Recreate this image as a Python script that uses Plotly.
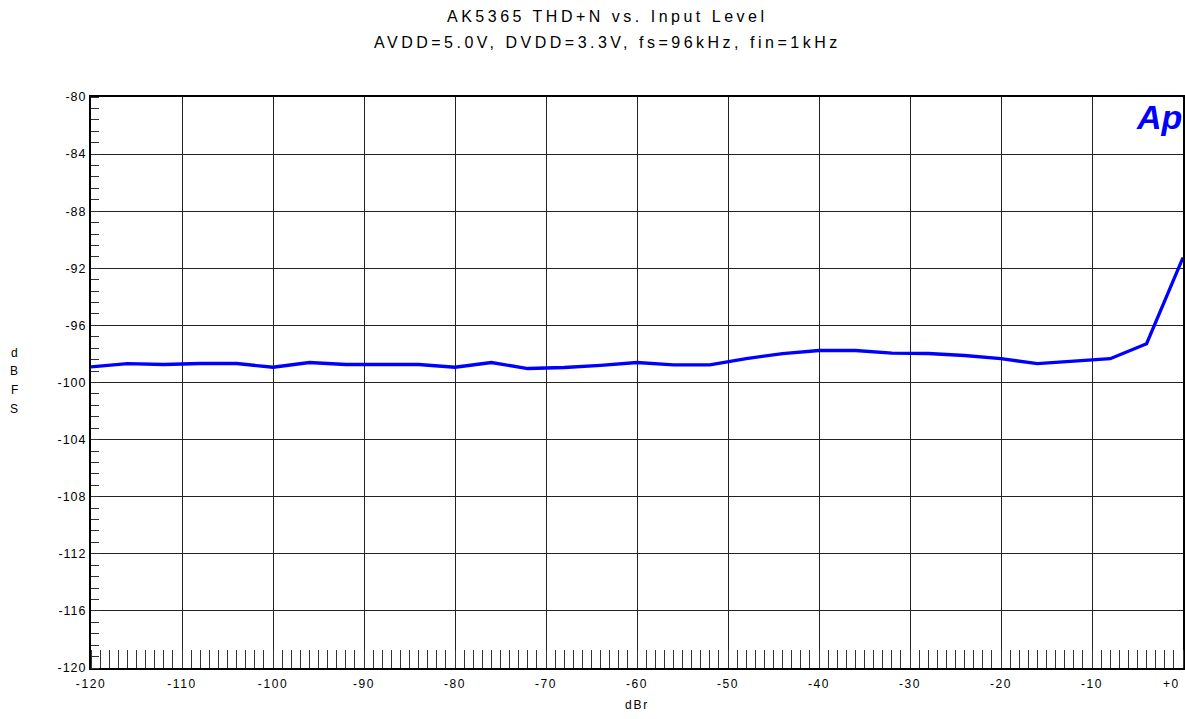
import plotly.graph_objects as go

level_dbr = [-120, -116, -112, -108, -104, -100, -96, -92, -88, -84, -80, -76, -72, -68,
             -64, -60, -56, -52, -48, -44, -40, -36, -32, -28, -24, -20, -16, -12, -8, -4, 0]
thdn_dbfs = [-98.9, -98.68, -98.74, -98.67, -98.67, -98.93, -98.6, -98.74, -98.74, -98.74,
             -98.93, -98.6, -99.02, -98.95, -98.8, -98.6, -98.76, -98.76, -98.32, -97.98,
             -97.76, -97.76, -97.94, -97.97, -98.11, -98.33, -98.68, -98.5, -98.33, -97.28, -91.25]

x_ticks = [-120, -110, -100, -90, -80, -70, -60, -50, -40, -30, -20, -10, 0]
x_ticktext = ["-120", "-110", "-100", "-90", "-80", "-70", "-60", "-50", "-40", "-30", "-20", "-10", "+0"]
y_ticks = [-80, -84, -88, -92, -96, -100, -104, -108, -112, -116, -120]

title_l1 = "AK5365 THD+N vs. Input Level"
title_l2 = "AVDD=5.0V, DVDD=3.3V, fs=96kHz, fin=1kHz"
x_title = "dBr"
y_title = "dBFS"
logo = "Ap"

FONT = "Liberation Sans, Arial, sans-serif"

def sp(t, px):
    return f'<span style="letter-spacing:{px}px">{t}</span>'

fig = go.Figure()
fig.add_trace(go.Scatter(x=level_dbr, y=thdn_dbfs, mode="lines",
                         line=dict(color="#0000FF", width=3.3), hoverinfo="skip"))

# the last tick label sits right-aligned against the figure edge (drawn as annotation)
axis_labels = [sp(t, 1.6) for t in x_ticktext[:-1]] + [""]

fig.update_layout(
    width=1185, height=719,
    margin=dict(l=91, r=0, t=97, b=51),
    paper_bgcolor="white", plot_bgcolor="white",
    showlegend=False,
    font=dict(family=FONT, color="black", size=12),
    xaxis=dict(
        range=[-120, 0], tickvals=x_ticks, ticktext=axis_labels,
        showgrid=True, gridcolor="#222", gridwidth=1,
        zeroline=False, showline=True, linecolor="black", linewidth=1.5, mirror=True,
        ticks="", tickfont=dict(size=12, family=FONT), ticklabelstandoff=4,
        minor=dict(dtick=1, tick0=0, ticks="inside", ticklen=18, tickcolor="#333",
                   tickwidth=1, showgrid=False),
        fixedrange=True,
    ),
    yaxis=dict(
        range=[-120, -80], tickvals=y_ticks, ticktext=[sp(str(v), 1.0) for v in y_ticks],
        showgrid=True, gridcolor="#222", gridwidth=1,
        zeroline=False, showline=True, linecolor="black", linewidth=2, mirror=True,
        ticks="", tickfont=dict(size=12.5, family=FONT),
        minor=dict(dtick=0.8, tick0=-80, ticks="inside", ticklen=8, tickcolor="#333",
                   tickwidth=1, showgrid=False),
        fixedrange=True,
    ),
)

fig.add_annotation(xref="x", yref="paper", x=x_ticks[-1], y=0, yshift=-16, xshift=-1,
                   showarrow=False, text=sp(x_ticktext[-1], 1.6),
                   font=dict(size=12, family=FONT), xanchor="right", yanchor="middle")

title_x = (608 - 91) / 1094
fig.add_annotation(xref="paper", yref="paper", x=title_x, y=1, yshift=81, showarrow=False,
                   text=sp(title_l1, 3.5), font=dict(size=16, family=FONT, color="black"),
                   xanchor="center", yanchor="middle")
fig.add_annotation(xref="paper", yref="paper", x=title_x, y=1, yshift=55, showarrow=False,
                   text=sp(title_l2, 3.5), font=dict(size=16, family=FONT, color="black"),
                   xanchor="center", yanchor="middle")
fig.add_annotation(xref="paper", yref="paper", x=0.5, y=0, yshift=-37, showarrow=False,
                   text=sp(x_title, 1.8), font=dict(size=12, family=FONT),
                   xanchor="center", yanchor="middle")
for i, ch in enumerate(y_title):
    fig.add_annotation(xref="paper", yref="paper", x=0, xshift=-77, y=0.5,
                       yshift=(382 - 352) - i * 18.7, showarrow=False,
                       text=ch, font=dict(size=12, family=FONT),
                       xanchor="center", yanchor="middle")
fig.add_annotation(xref="paper", yref="paper", x=1, xshift=1, y=1, yshift=1, showarrow=False,
                   text=f"<b><i>{logo}</i></b>", font=dict(size=34, family=FONT, color="#0000FF"),
                   xanchor="right", yanchor="top")

fig.write_html("out.html", config={"displayModeBar": False},
               post_script="document.body.style.margin='0';document.body.style.overflow='hidden';")
